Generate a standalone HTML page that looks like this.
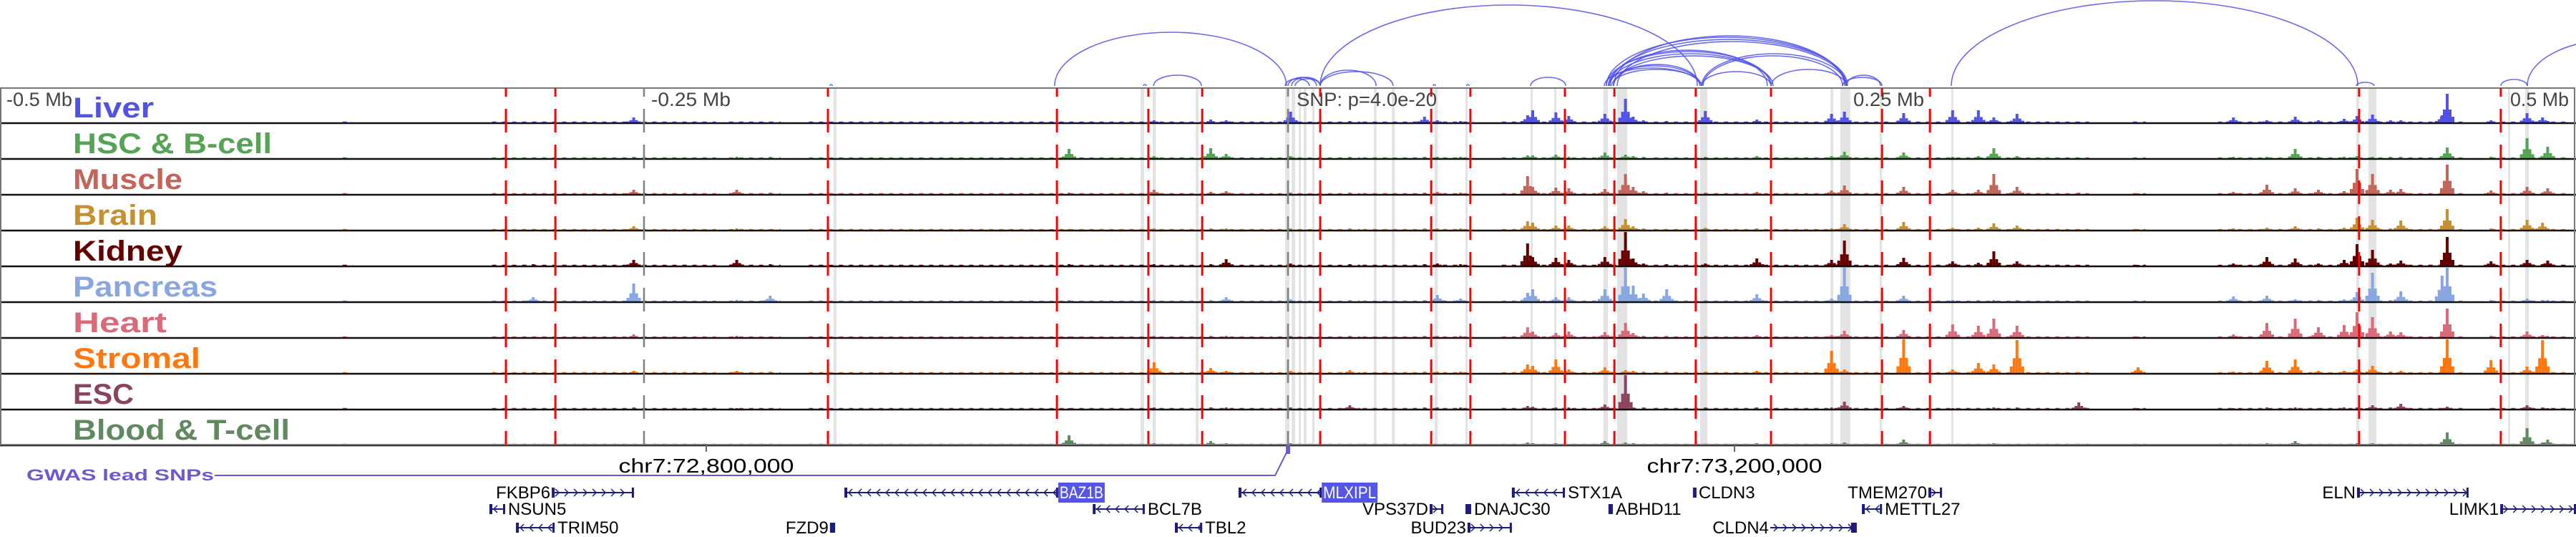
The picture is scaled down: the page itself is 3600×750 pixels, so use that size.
<!DOCTYPE html>
<html><head><meta charset="utf-8">
<style>
html,body{margin:0;padding:0;background:#fff;}
svg{display:block;}
text{font-family:"Liberation Sans",sans-serif;}
</style></head>
<body>
<svg id="fig" width="3600" height="750" viewBox="0 0 3600 750" xmlns="http://www.w3.org/2000/svg"></svg>
<script>
// ---- data (genomic offsets in kb relative to lead SNP) ----
const tissues = ["Liver","HSC & B-cell","Muscle","Brain","Kidney","Pancreas","Heart","Stromal","ESC","Blood & T-cell"];
const tissueColors = ["#5252e6","#55a455","#c4655b","#c69030","#650000","#89a6e0","#d86a7a","#ff780f","#8a4460","#5f8a60"];
const labelWidths = [113,278,153,118,153,202,131,178,85,303];
const peakKb = [-293,-254,-214,-201,-85,-52,-30,-24,1,24,53,58,67,93,95,104,109,123,131,134,138,147,162,182,211,216,239,258,268,274,283,307,330,367,380,391,400,410,415,421,428,432,448,450,467,481,487,489];
const liverVals   = [0,7,0,0,0,3,4,3,15,2,8,3,2,10,17,14,9,12,33,8,3,2,16,4,12,15,13,17,17,7,12,1,0,7,3,8,3,5,9,11,3,3,10,40,3,13,7,2];
const hscVals     = [0,2,2,2,13,3,14,6,3,2,2,2,2,4,4,5,2,8,5,3,2,1,2,3,3,9,8,2,3,14,3,1,0,2,2,13,2,2,3,2,2,2,2,15,2,28,3,16];
const muscleVals  = [1,6,6,2,2,6,3,4,2,2,2,3,2,25,10,9,8,7,28,10,4,2,2,3,5,12,10,6,6,28,10,2,1,3,13,8,6,4,35,28,6,7,2,41,5,10,2,8];
const brainVals   = [1,5,2,1,1,2,2,2,2,2,2,2,2,12,10,6,6,5,15,5,2,1,3,2,2,8,11,3,3,9,6,1,1,2,3,5,2,3,17,14,2,13,3,29,2,14,10,2];
const kidneyVals  = [2,8,8,2,2,2,2,9,3,2,2,3,2,31,12,11,8,12,48,10,3,2,3,10,8,35,11,6,4,20,6,1,1,3,12,10,3,8,30,22,3,7,2,40,6,8,2,7];
const pancreasVals= [6,25,2,8,2,2,2,6,3,2,2,9,4,12,17,6,6,17,48,22,11,17,2,10,4,48,8,2,2,2,2,1,0,7,8,3,2,3,13,40,2,14,36,48,2,4,2,2];
const heartVals   = [1,4,2,1,1,2,2,2,2,2,2,2,2,14,8,6,8,7,20,6,2,2,2,3,3,9,10,18,16,26,16,1,1,4,20,26,14,17,35,28,8,7,2,40,2,8,3,2];
const stromalVals = [1,3,3,2,2,15,7,3,3,4,2,2,2,12,10,19,5,8,4,3,2,2,2,3,31,5,48,5,14,12,46,1,8,2,17,19,3,3,5,10,2,3,2,48,18,9,46,2];
const escVals     = [1,2,1,1,1,2,2,2,2,5,2,2,2,4,3,2,2,6,48,2,2,1,2,2,2,10,4,1,1,2,2,9,1,1,2,2,1,2,2,5,2,7,1,3,1,5,2,1];
const bloodVals   = [1,1,1,1,13,2,5,2,2,1,1,1,1,3,2,2,1,5,3,2,1,1,1,2,2,3,7,1,1,2,1,1,1,1,2,5,1,1,2,2,1,1,1,17,1,23,3,7];
const trackVals = [liverVals,hscVals,muscleVals,brainVals,kidneyVals,pancreasVals,heartVals,stromalVals,escVals,bloodVals];
const coverageKb = [[-367,-363],[-309,-222],[-217,-197],[-186,-6],[-4,28],[29,72],[83,139],[142,233],[236,292],[294,311],[328,333],[361,456],[467,497]];
const redLineKb = [-303.6,-284.4,-178.6,-89.7,-54.2,-33.3,12.5,55.6,70.8,107.5,126.7,158.3,187.5,230.6,249.2,415.8,470.8];
const highlightKb = [[-176.4,-175.3],[-57.2,-55.8],[-52.5,-51.4],[-35.8,-34.7],[-1.1,0.6],[1.4,2.8],[4.2,5],[6.1,7.2],[9.4,10.3],[33.3,34.4],[40.3,41.4],[56.9,58.1],[68.9,69.7],[94.2,95],[103.3,104.2],[122.5,124.2],[127.8,131.7],[160,162.8],[210.6,211.7],[214.4,218.3],[229.7,230.6],[257.5,258.3],[414.7,415.8],[419.4,422.5],[473.6,474.4],[480.3,481.7]];
const arcStartKb = [-90.6,-1.1,0,1.4,2.8,12.5,12.5,56.4,69.4,94.2,12.5,122.8,124.4,125.6,126.4,123.6,125,126.4,124.4,123.6,125,126.4,127.8,160.6,160.6,161.1,187.5,216.7,215.3,-177.8,-56.1,-52.2,257.5,414.7,470.8,481.1];
const arcEndKb   = [-0.6,8.3,11.1,12.5,12.5,34.2,40.8,57.2,70.3,107.8,158.9,160,160,160.6,160,187.5,187.5,188.3,186.1,216.7,217.2,216.1,216.7,187.5,216.7,215.3,216.7,230,230.6,-176.9,-55,-33.6,415.3,421.7,481.1,550];
const arcHeight  = [75,10,12,12,10,22,20,2,2,12,113,25,28,23,30,48,45,42,50,68,65,70,62,20,45,42,23,15,12,2,2,15,119,5,9,65];
const genes = [
 {name:"FKBP6",s:-285.8,e:-253.9,row:0,dir:1,side:"left"},
 {name:"NSUN5",s:-310,e:-303.9,row:1,dir:-1,side:"right",exonStart:true},
 {name:"TRIM50",s:-299.7,e:-284.7,row:2,dir:-1,side:"right"},
 {name:"BAZ1B",s:-172.2,e:-89.2,row:0,dir:-1,side:"box"},
 {name:"BCL7B",s:-75.8,e:-55.6,row:1,dir:-1,side:"right"},
 {name:"FZD9",s:-177.8,e:-175.8,row:2,dir:0,side:"left"},
 {name:"TBL2",s:-43.9,e:-33.3,row:2,dir:-1,side:"right",exonStart:true},
 {name:"MLXIPL",s:-19.2,e:13.1,row:0,dir:-1,side:"box"},
 {name:"VPS37D",s:55,e:60.3,row:1,dir:1,side:"left"},
 {name:"DNAJC30",s:68.9,e:71.1,row:1,dir:0,side:"right"},
 {name:"BUD23",s:69.7,e:86.9,row:2,dir:1,side:"left"},
 {name:"STX1A",s:86.9,e:107.5,row:0,dir:-1,side:"right"},
 {name:"CLDN3",s:157.2,e:158.3,row:0,dir:0,side:"right"},
 {name:"ABHD11",s:124.4,e:126.1,row:1,dir:0,side:"right"},
 {name:"CLDN4",s:187.2,e:220.8,row:2,dir:1,side:"left",exonEnd:true},
 {name:"TMEM270",s:248.6,e:253.9,row:0,dir:1,side:"left"},
 {name:"METTL27",s:222.8,e:230.6,row:1,dir:-1,side:"right"},
 {name:"ELN",s:415,e:458.3,row:0,dir:1,side:"left"},
 {name:"LIMK1",s:470.6,e:500,row:1,dir:1,side:"left"}
];

// ---- scales ----
const NS="http://www.w3.org/2000/svg";
const svg=document.getElementById('fig');
const X = kb => 1800 + kb*3.6;
const TOP=123, TH=50, BASE=120;
const rowY=[688,711,737];
function el(tag,attrs,parent){const e=document.createElementNS(NS,tag);for(const k in attrs)e.setAttribute(k,attrs[k]);(parent||svg).appendChild(e);return e;}

// highlight bands
const gHl=el('g',{});


highlightKb.forEach(h=>{
  const r=el('rect',{x:X(h[0]),y:TOP,width:Math.max(2,X(h[1])-X(h[0])),height:TH*10,fill:'#e3e3e3'},gHl);
  
  
});

// arcs
const gArc=el('g',{fill:'none',stroke:'#5050ea','stroke-width':1.6,'stroke-opacity':0.85});


arcStartKb.forEach((s,i)=>{
  const x1=X(s),x2=X(arcEndKb[i]);const rx=(x2-x1)/2, ry=arcHeight[i];
  const p=el('path',{d:`M${x1},${BASE} A${rx},${ry} 0 0 1 ${x2},${BASE}`},gArc);
  
  
});

// tracks
tissues.forEach((t,i)=>{
  const y0=TOP+i*TH, yb=y0+TH-2;
  const g=el('g',{});
  
  
  const lab=el('text',{x:102,y:y0+41,'font-size':40,'font-weight':'bold',fill:tissueColors[i],textLength:labelWidths[i],lengthAdjust:'spacingAndGlyphs'},g);
  lab.textContent=t;
  
  
  coverageKb.forEach(c=>{
    const l=el('line',{x1:X(c[0]),x2:X(c[1]),y1:yb-0.5,y2:yb-0.5,stroke:tissueColors[i],'stroke-width':1.5,'stroke-dasharray':'6 8'},g);
    
    
  });
  const vals=trackVals[i];
  peakKb.forEach((k,j)=>{
    const h=Math.min(47,vals[j]); if(h<=0) return;
    const cx=X(k);
    [[-8,0.2,4],[-4,0.45,4],[0,1,4],[4,0.45,4],[8,0.2,4]].forEach(s=>{
      const hh=h*s[1]; if(hh<1) return;
      const b=el('rect',{x:cx+s[0]-2,y:yb-hh,width:s[2],height:hh,fill:tissueColors[i]},g);
      
      
    });
  });
  const bl=el('line',{x1:0,x2:3600,y1:y0+TH-1,y2:y0+TH-1,stroke:'#111','stroke-width':2.5},g);
  
  
});

// frame
const fr=el('rect',{x:1,y:TOP,width:3597,height:TH*10-2,fill:'none',stroke:'#777','stroke-width':2});



// dashed guide lines
redLineKb.forEach(k=>{
  const l=el('line',{x1:X(k),x2:X(k),y1:TOP,y2:TOP+TH*10-2,stroke:'#ff0000','stroke-width':3,'stroke-dasharray':'33 17','stroke-dashoffset':21});
  
  
});
[-250,0].forEach(k=>{
  const l=el('line',{x1:X(k),x2:X(k),y1:TOP,y2:TOP+TH*10-2,stroke:'#808080','stroke-width':2.5,'stroke-dasharray':'33 17','stroke-dashoffset':21});
  
  
});

// distance labels
[["-0.5 Mb",9,92],["-0.25 Mb",910,111],["SNP: p=4.0e-20",1812,196],["0.25 Mb",2590,99],["0.5 Mb",3508,82]].forEach(d=>{
  const t=el('text',{x:d[1],y:148,'font-size':27,fill:'#444',textLength:d[2],lengthAdjust:'spacingAndGlyphs'});
  t.textContent=d[0];
  
  
});

// coordinate axis
[[72800000,987,245],[73200000,2424,245]].forEach(c=>{
  const tk=el('line',{x1:c[1],x2:c[1],y1:621,y2:631,stroke:'#666','stroke-width':2});
  
  
  const t=el('text',{x:c[1],y:660,'font-size':28,fill:'#000','text-anchor':'middle',textLength:c[2],lengthAdjust:'spacingAndGlyphs'});
  t.textContent='chr7:'+c[0].toLocaleString('en-US');
  
  
});

// GWAS
const gw=el('text',{x:37,y:671,'font-size':22,'font-weight':'bold',fill:'#6a5acd',textLength:262,lengthAdjust:'spacingAndGlyphs'});
gw.textContent='GWAS lead SNPs';


const gp=el('polyline',{points:`300,664 ${X(-5)},664 ${X(0)},628`,fill:'none',stroke:'#6a5acd','stroke-width':2});


const gm=el('rect',{x:X(0)-3,y:622,width:6,height:12,fill:'#6a5acd'});



// genes
genes.forEach(gn=>{
  const g=el('g',{});
  
  
  const y=rowY[gn.row], x1=X(gn.s), x2=X(gn.e);
  const c='#1c1c7a';
  el('line',{x1:x1,x2:x2,y1:y,y2:y,stroke:c,'stroke-width':2},g);
  if(gn.dir!==0){
    for(let x=x1+8;x<x2-4;x+=13){
      const d=gn.dir>0?`M${x-3},${y-5} L${x+2},${y} L${x-3},${y+5}`:`M${x+3},${y-5} L${x-2},${y} L${x+3},${y+5}`;
      el('path',{d:d,fill:'none',stroke:c,'stroke-width':1.5},g);
    }
  }
  const exW = gn.dir===0 ? Math.max(5,x2-x1) : 4;
  el('rect',{x:gn.exonEnd?x2-8:x1,y:y-7,width:gn.exonEnd?8:exW,height:14,fill:c},g);
  if(gn.dir!==0 && !gn.exonEnd) el('rect',{x:x2-3,y:y-7,width:3,height:14,fill:c},g);
  let t;
  const fam='"Liberation Sans Narrow","Liberation Sans",sans-serif';
  if(gn.side==='box'){
    const w=gn.name.length*13;
    el('rect',{x:x2,y:y-14,width:w,height:28,fill:'#5555e8'},g);
    t=el('text',{x:x2+2,y:y+8,'font-size':24,fill:'#fff','font-family':fam,textLength:w-4,lengthAdjust:'spacingAndGlyphs'},g);
  } else if(gn.side==='left'){
    t=el('text',{x:x1-2,y:y+8,'font-size':24,fill:'#000','font-family':fam,'text-anchor':'end'},g);
  } else {
    t=el('text',{x:x2+4,y:y+8,'font-size':24,fill:'#000','font-family':fam},g);
  }
  t.textContent=gn.name;
  
  
});
</script>
</body></html>
